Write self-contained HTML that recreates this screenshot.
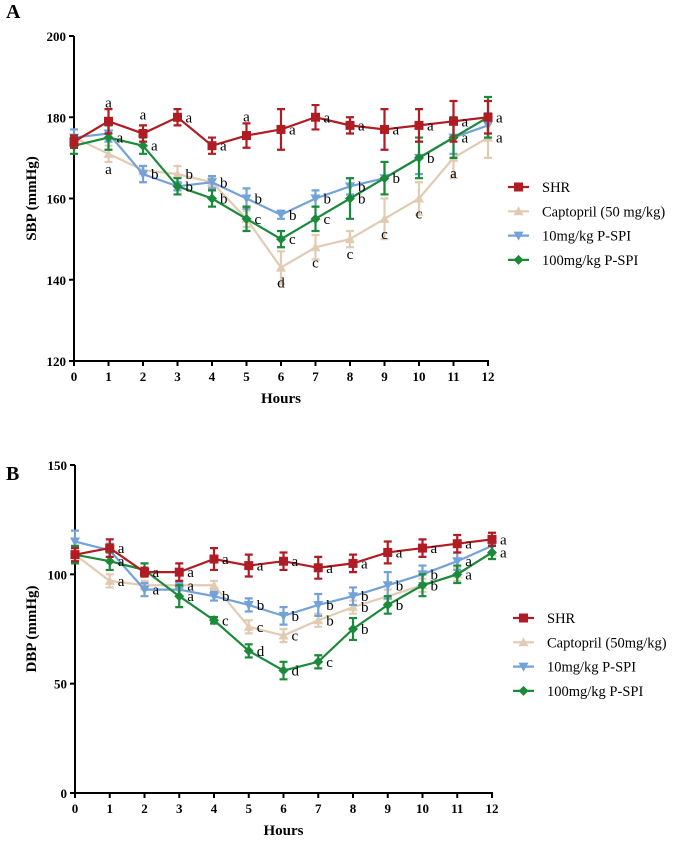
<!DOCTYPE html>
<html><head><meta charset="utf-8"><style>
body{margin:0;background:#fff}
svg{display:block;font-family:"Liberation Serif",serif}
</style></head><body>
<svg id="fig" width="692" height="850"></svg>
<script>
const hours=[0,1,2,3,4,5,6,7,8,9,10,11,12];
const seriesNames=["SHR","Captopril","10mg/kg P-SPI","100mg/kg P-SPI"];
// Panel A SBP
const sbpSHR=[174,179,176,180,173,175.5,177,180,178,177,178,179,180];
const sbpCapt=[175,171,167,166,164,155,143,148,150,155,160,170,175];
const sbp10=[175,176,166,163,164,160,156,160,163,165,170,175,178];
const sbp100=[173,175,173,163,160,155,150,155,160,165,170,175,180];
const sbpErrSHR=[1.5,3,2,2,2,3,5,3,2,5,4,5,4];
const sbpErrCapt=[2,2,1,2,1,2,4,3,2,5,4,5,5];
const sbpErr10=[2,2,2,1,1.5,2.5,1,2,2,4,4,4,3];
const sbpErr100=[2,3,2,2,2,3,2,3,5,4,5,5,5];
const sbpLetSHR=["","a","a","a","a","a","a","a","a","a","a","a","a"];
const sbpLetCapt=["","a","","b","","","d","c","c","c","c","a","a"];
const sbpLet10=["","","b","","b","b","b","b","b","","","a",""];
const sbpLet100=["","a","a","b","b","c","c","c","b","b","b","",""];
const sbpTicks=[120,140,160,180,200];
// Panel B DBP
const dbpSHR=[109,112,101,101,107,104,106,103,105,110,112,114,116];
const dbpCapt=[109,97,95,95,95,76,72,79,85,90,95,100,110];
const dbp10=[115,111,93,93,90,86,81,86,90,95,100,106,113];
const dbp100=[109,106,102,90,79,65,56,60,75,86,95,100,110];
const dbpErrSHR=[3,4,2,4,5,5,4,5,4,5,4,4,3];
const dbpErrCapt=[3,3,2,2,2,3,3,3,3,3,3,3,3];
const dbpErr10=[5,3,3,3,2,3,4,5,4,6,4,4,3];
const dbpErr100=[4,4,3,5,1.5,3,4,3,5,4,5,4,3];
const dbpLetSHR=["","a","a","a","a","a","a","a","a","a","a","a","a"];
const dbpLetCapt=["","a","","a","","c","c","b","b","","","",""];
const dbpLet10=["","","a","","b","b","b","b","b","b","b","a",""];
const dbpLet100=["","a","","a","c","d","d","c","b","b","b","a","a"];
const dbpTicks=[0,50,100,150];

const NS="http://www.w3.org/2000/svg";
const svg=document.getElementById('fig');
function mk(tag,attrs,parent){const e=document.createElementNS(NS,tag);for(const k in attrs)e.setAttribute(k,attrs[k]);(parent||svg).appendChild(e);return e;}
const colors=["#b01c23","#e2cbb3","#72a2d8","#1b8a3b"];

function marker(g,type,x,y,c){
  let e;
  if(type===0) e=mk('rect',{x:x-4.5,y:y-4.5,width:9,height:9,fill:c},g);
  else if(type===1) e=mk('polygon',{points:`${x},${y-5} ${x+5},${y+4} ${x-5},${y+4}`,fill:c},g);
  else if(type===2) e=mk('polygon',{points:`${x-5},${y-4} ${x+5},${y-4} ${x},${y+5}`,fill:c},g);
  else e=mk('polygon',{points:`${x},${y-5} ${x+5},${y} ${x},${y+5} ${x-5},${y}`,fill:c},g);
  
  
}

function panel(cfg){
  const {x0,x1,yTop,yBot,vmin,vmax,ticks,series,errs,lets,ylabel,letter,letterY,legY,legX,legLabels,name,smartLetters}=cfg;
  const X=h=>x0+(x1-x0)*h/12;
  const Y=v=>yBot-(yBot-yTop)*(v-vmin)/(vmax-vmin);
  const g=mk('g',{});
  
  
  const pl=mk('text',{x:6,y:letterY,'font-size':20,'font-weight':'bold'},g);pl.textContent=letter;
  
  
  const ya=mk('line',{x1:x0,y1:yTop,x2:x0,y2:yBot,stroke:'#000','stroke-width':2},g);
  
  
  const xa=mk('line',{x1:x0-1,y1:yBot,x2:x1+1,y2:yBot,stroke:'#000','stroke-width':2},g);
  
  
  ticks.forEach(t=>{
    mk('line',{x1:x0-5,y1:Y(t),x2:x0,y2:Y(t),stroke:'#000','stroke-width':2},g);
    const tx=mk('text',{x:x0-8,y:Y(t)+5,'font-size':13,'font-weight':'bold','text-anchor':'end'},g);
    tx.textContent=t;
    
    
  });
  hours.forEach(h=>{
    mk('line',{x1:X(h),y1:yBot,x2:X(h),y2:yBot+5,stroke:'#000','stroke-width':2},g);
    const tx=mk('text',{x:X(h),y:yBot+20,'font-size':13,'font-weight':'bold','text-anchor':'middle'},g);
    tx.textContent=h;
    
    
  });
  const xt=mk('text',{x:(x0+x1)/2,y:yBot+42,'font-size':15,'font-weight':'bold','text-anchor':'middle'},g);
  xt.textContent='Hours';
  
  
  const yt=mk('text',{x:0,y:0,'font-size':15,'font-weight':'bold','text-anchor':'middle',transform:`translate(36,${(yTop+yBot)/2}) rotate(-90)`},g);
  yt.textContent=ylabel;
  
  
  [1,2,3,0].forEach(si=>{
    const vals=series[si],er=errs[si],c=colors[si];
    const sg=mk('g',{},g);
    
    
    const pts=vals.map((v,i)=>X(hours[i])+','+Y(v)).join(' ');
    const pln=mk('polyline',{points:pts,fill:'none',stroke:c,'stroke-width':2.2},sg);
    
    
    vals.forEach((v,i)=>{
      const x=X(hours[i]);
      const e=mk('path',{d:`M${x},${Y(v+er[i])}V${Y(v-er[i])}M${x-4},${Y(v+er[i])}h8M${x-4},${Y(v-er[i])}h8`,stroke:c,'stroke-width':2.2,fill:'none'},sg);
      
      
      marker(sg,si,x,Y(v),c);
    });
  });
  [0,1,2,3].forEach(si=>{
    lets[si].forEach((l,i)=>{
      if(!l)return;
      const v=series[si][i];
      let dx=8,dy=5;
      if(smartLetters){
        if(si===0 && [1,2,5].includes(i)){dx=0;dy=-14;}
        if(si===1 && v<series[2][i]-3){dx=0;dy=20;}
      }
      const t=mk('text',{x:X(hours[i])+dx,y:Y(v)+dy,'font-size':15,'text-anchor':dx===0?'middle':'start'},g);
      t.textContent=l;
      
      
    });
  });
  legLabels.forEach((lab,si)=>{
    const y=legY+si*24.3;
    const lg=mk('g',{},g);
    
    
    mk('line',{x1:legX,y1:y,x2:legX+21,y2:y,stroke:colors[si],'stroke-width':2.2},lg);
    marker(lg,si,legX+10.5,y,colors[si]);
    const t=mk('text',{x:legX+34,y:y+5,'font-size':14.5},lg);
    t.textContent=lab;
  });
}
panel({x0:74,x1:488,yTop:36,yBot:361,vmin:120,vmax:200,ticks:sbpTicks,
  series:[sbpSHR,sbpCapt,sbp10,sbp100],errs:[sbpErrSHR,sbpErrCapt,sbpErr10,sbpErr100],
  lets:[sbpLetSHR,sbpLetCapt,sbpLet10,sbpLet100],ylabel:'SBP (mmHg)',letter:'A',letterY:18,legY:187,legX:508,smartLetters:true,
  legLabels:['SHR','Captopril (50 mg/kg)','10mg/kg P-SPI','100mg/kg P-SPI'],name:'panel-a-sbp'});
panel({x0:75,x1:492,yTop:465,yBot:793,vmin:0,vmax:150,ticks:dbpTicks,
  series:[dbpSHR,dbpCapt,dbp10,dbp100],errs:[dbpErrSHR,dbpErrCapt,dbpErr10,dbpErr100],
  lets:[dbpLetSHR,dbpLetCapt,dbpLet10,dbpLet100],ylabel:'DBP (mmHg)',letter:'B',letterY:480,legY:618,legX:513,smartLetters:false,
  legLabels:['SHR','Captopril (50mg/kg)','10mg/kg P-SPI','100mg/kg P-SPI'],name:'panel-b-dbp'});
</script>
</body></html>
